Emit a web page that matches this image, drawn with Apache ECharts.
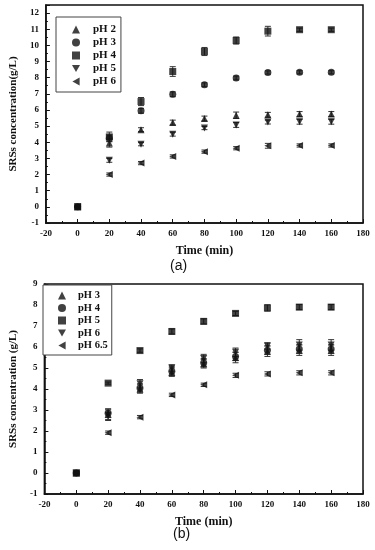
<!DOCTYPE html>
<html><head><meta charset="utf-8">
<script src="https://cdn.jsdelivr.net/npm/echarts@6/dist/echarts.min.js"></script>
<style>html,body{margin:0;padding:0;background:#fff}#c{width:375px;height:550px}</style>
</head><body><div id="c"></div>
<script>
// ---------- data ----------
const times = [0, 20, 40, 60, 80, 100, 120, 140, 160];

// chart (a)
const aNames = ['pH 2', 'pH 3', 'pH 4', 'pH 5', 'pH 6'];
const a_pH2 = [0, 3.95, 4.78, 5.22, 5.47, 5.67, 5.70, 5.75, 5.75];
const a_pH3 = [0, 4.25, 5.95, 6.97, 7.56, 7.98, 8.32, 8.33, 8.33];
const a_pH4 = [0, 4.33, 6.52, 8.38, 9.62, 10.30, 10.88, 10.97, 10.97];
const a_pH5 = [0, 2.88, 3.88, 4.50, 4.88, 5.07, 5.25, 5.27, 5.27];
const a_pH6 = [0, 2.00, 2.71, 3.12, 3.42, 3.63, 3.78, 3.80, 3.80];
const a_err2 = [0.05, 0.25, 0.12, 0.15, 0.15, 0.20, 0.15, 0.15, 0.15];
const a_err3 = [0.05, 0.20, 0.15, 0.15, 0.12, 0.12, 0.10, 0.10, 0.10];
const a_err4 = [0.05, 0.30, 0.25, 0.30, 0.25, 0.22, 0.30, 0.10, 0.10];
const a_err5 = [0.05, 0.12, 0.10, 0.12, 0.10, 0.15, 0.12, 0.15, 0.15];
const a_err6 = [0.05, 0.10, 0.10, 0.10, 0.10, 0.10, 0.15, 0.10, 0.10];

// chart (b)
const bNames = ['pH 3', 'pH 4', 'pH 5', 'pH 6', 'pH 6.5'];
const b_pH3 = [0, 2.80, 4.00, 4.80, 5.20, 5.50, 5.80, 5.85, 5.85];
const b_pH4 = [0, 2.85, 4.05, 4.85, 5.25, 5.55, 5.85, 5.90, 5.90];
const b_pH5 = [0, 4.28, 5.83, 6.74, 7.22, 7.60, 7.86, 7.90, 7.90];
const b_pH6 = [0, 2.75, 4.25, 5.00, 5.45, 5.75, 6.05, 6.10, 6.10];
const b_pH65 = [0, 1.92, 2.66, 3.72, 4.20, 4.65, 4.72, 4.77, 4.77];
const b_err3 = [0.05, 0.25, 0.20, 0.20, 0.20, 0.25, 0.25, 0.25, 0.25];
const b_err4 = [0.05, 0.20, 0.20, 0.20, 0.20, 0.20, 0.20, 0.20, 0.20];
const b_err5 = [0.05, 0.05, 0.08, 0.12, 0.12, 0.10, 0.15, 0.12, 0.12];
const b_err6 = [0.05, 0.25, 0.20, 0.15, 0.20, 0.20, 0.15, 0.25, 0.25];
const b_err65 = [0.05, 0.08, 0.08, 0.08, 0.08, 0.10, 0.10, 0.10, 0.10];

const xTicks = [-20, 0, 20, 40, 60, 80, 100, 120, 140, 160, 180];

// ---------- styling ----------
const SYM_UP = 'triangle';
const SYM_CIRCLE = 'circle';
const SYM_SQUARE = 'rect';
const SYM_DOWN = 'path://M0,0L10,0L5,9Z';
const SYM_LEFT = 'path://M9,0L9,10L0,5Z';
const symbols = [SYM_UP, SYM_CIRCLE, SYM_SQUARE, SYM_DOWN, SYM_LEFT];
const FONT = '"Liberation Serif","DejaVu Serif",serif';
const INK = '#111';

function scatterSeries(prefix, names, values, gi) {
  return names.map((n, i) => ({
    name: prefix + n,
    type: 'scatter',
    xAxisIndex: gi, yAxisIndex: gi,
    symbol: symbols[i],
    symbolSize: 7,
    itemStyle: { color: INK },
    data: times.map((t, k) => [t, values[i][k]]),
    z: 3
  }));
}
function errorSeries(values, errs, gi) {
  const data = [];
  values.forEach((arr, i) => arr.forEach((v, k) => data.push([times[k], v, errs[i][k]])));
  return {
    type: 'custom', xAxisIndex: gi, yAxisIndex: gi, silent: true, z: 2,
    data: data,
    renderItem: function (params, api) {
      const x = api.value(0), y = api.value(1), e = api.value(2);
      const hi = api.coord([x, y + e]), lo = api.coord([x, y - e]);
      const w = 3;
      const st = { stroke: '#333', lineWidth: 1 };
      return { type: 'group', children: [
        { type: 'line', shape: { x1: hi[0], y1: hi[1], x2: lo[0], y2: lo[1] }, style: st },
        { type: 'line', shape: { x1: hi[0] - w, y1: hi[1], x2: hi[0] + w, y2: hi[1] }, style: st },
        { type: 'line', shape: { x1: lo[0] - w, y1: lo[1], x2: lo[0] + w, y2: lo[1] }, style: st }
      ]};
    }
  };
}

function xAxisCfg(gi, nameGap) {
  return {
    gridIndex: gi, type: 'value', min: -20, max: 180, interval: 20,
    name: 'Time (min)', nameLocation: 'middle', nameGap: nameGap,
    nameTextStyle: { fontFamily: FONT, fontWeight: 'bold', fontSize: 12, color: INK },
    axisLine: { onZero: false, lineStyle: { color: INK, width: 1.5 } },
    axisTick: { inside: true, length: 4, lineStyle: { color: INK } },
    minorTick: { show: true, splitNumber: 2, length: 2, lineStyle: { color: INK } },
    axisLabel: { fontFamily: FONT, fontWeight: 'bold', fontSize: 9, color: INK, margin: 6,
      formatter: v => xTicks.includes(v) ? String(v) : '' },
    splitLine: { show: false }
  };
}
function yAxisCfg(gi, min, max, name, nameGap) {
  return {
    gridIndex: gi, type: 'value', min: min, max: max, interval: 1,
    name: name, nameLocation: 'middle', nameGap: nameGap,
    nameTextStyle: { fontFamily: FONT, fontWeight: 'bold', fontSize: 11, color: INK },
    axisLine: { onZero: false, lineStyle: { color: INK, width: 1.5 } },
    axisTick: { inside: true, length: 4, lineStyle: { color: INK } },
    minorTick: { show: true, splitNumber: 2, length: 2, lineStyle: { color: INK } },
    axisLabel: { fontFamily: FONT, fontWeight: 'bold', fontSize: 9, color: INK, margin: 7,
      formatter: v => Number.isInteger(v) ? String(v) : '' },
    splitLine: { show: false }
  };
}

const legendCommon = {
  orient: 'vertical', show: true,
  backgroundColor: '#fff', borderColor: '#444', borderWidth: 1,
  itemWidth: 8, itemHeight: 8, symbolKeepAspect: true,
  formatter: n => n.slice(2),
  selectedMode: false
};

const chart = echarts.init(document.getElementById('c'), null, { renderer: 'canvas' });
chart.setOption({
  animation: false,
  backgroundColor: '#fff',
  grid: [
    { left: 38, right: 12, top: 5, height: 218, show: true, borderColor: INK, borderWidth: 1.5, backgroundColor: 'transparent' },
    { left: 34, right: 12, top: 284, height: 210, show: true, borderColor: INK, borderWidth: 1.5, backgroundColor: 'transparent' }
  ],
  xAxis: [xAxisCfg(0, 22), xAxisCfg(1, 22)],
  yAxis: [
    yAxisCfg(0, -1, 12.5, 'SRSs concentration(g/L)', 22),
    yAxisCfg(1, -1, 9, 'SRSs concentration (g/L)', 20)
  ],
  legend: [
    Object.assign({}, legendCommon, { left: 56, top: 17, itemGap: 2, padding: [7, 5, 5, 16],
      textStyle: { fontFamily: FONT, fontWeight: 'bold', fontSize: 11, color: INK, padding: [0, 0, 0, 8] },
      data: aNames.map(n => 'a_' + n) }),
    Object.assign({}, legendCommon, { left: 43, top: 285, itemGap: 1.5, padding: [5, 4, 4, 15],
      textStyle: { fontFamily: FONT, fontWeight: 'bold', fontSize: 10.5, color: INK, padding: [0, 0, 0, 7] },
      data: bNames.map(n => 'b_' + n) })
  ],
  graphic: [
    { type: 'text', left: 170, top: 259, style: { text: '(a)', font: '14px "Liberation Sans", sans-serif', fill: INK } },
    { type: 'text', left: 173, top: 527, style: { text: '(b)', font: '14px "Liberation Sans", sans-serif', fill: INK } }
  ],
  series: [].concat(
    errorSeries([a_pH2, a_pH3, a_pH4, a_pH5, a_pH6], [a_err2, a_err3, a_err4, a_err5, a_err6], 0),
    scatterSeries('a_', aNames, [a_pH2, a_pH3, a_pH4, a_pH5, a_pH6], 0),
    errorSeries([b_pH3, b_pH4, b_pH5, b_pH6, b_pH65], [b_err3, b_err4, b_err5, b_err6, b_err65], 1),
    scatterSeries('b_', bNames, [b_pH3, b_pH4, b_pH5, b_pH6, b_pH65], 1)
  )
});
</script></body></html>
